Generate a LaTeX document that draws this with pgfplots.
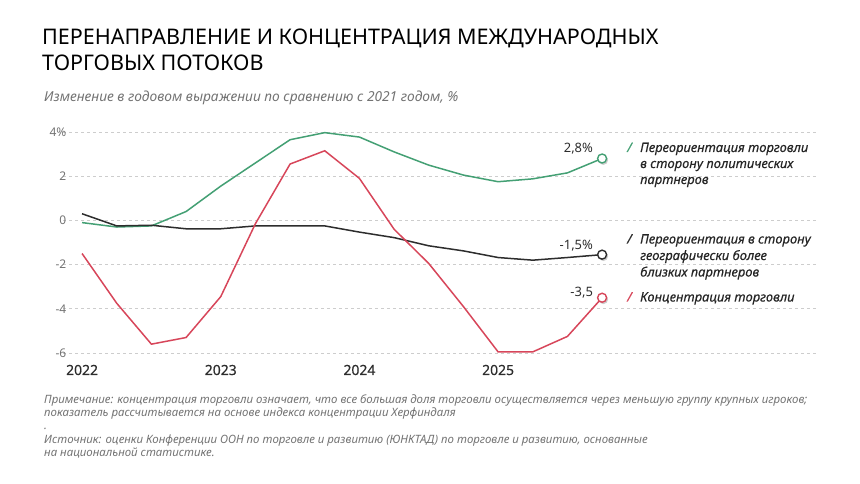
\documentclass[border=0pt]{standalone}
\usepackage{fontspec}
\setmainfont{Noto Sans}
\newfontfamily\legendfont[FakeBold=0.4]{Noto Sans}
\usepackage{pgfplots}
\usepackage{pgfplotstable}
\pgfplotsset{compat=1.18}
\definecolor{cgreen}{RGB}{68,160,116}
\definecolor{cred}{RGB}{215,70,90}
\definecolor{cblack}{RGB}{45,45,45}
\definecolor{cgray}{RGB}{115,115,115}
\definecolor{cgrid}{RGB}{205,205,205}
\newcommand{\fs}[1]{\fontsize{#1}{#1}\selectfont}

\pgfplotstableread{
x y
0 -0.1
1 -0.3
2 -0.25
3 0.4
4 1.55
5 2.6
6 3.65
7 3.97
8 3.77
9 3.1
10 2.5
11 2.05
12 1.75
13 1.88
14 2.15
15 2.8
}\greendata

\pgfplotstableread{
x y
0 0.3
1 -0.25
2 -0.22
3 -0.38
4 -0.38
5 -0.25
6 -0.25
7 -0.25
8 -0.53
9 -0.78
10 -1.15
11 -1.38
12 -1.68
13 -1.8
14 -1.68
15 -1.55
}\blackdata

\pgfplotstableread{
x y
0 -1.5
1 -3.75
2 -5.6
3 -5.3
4 -3.45
5 -0.15
6 2.55
7 3.15
8 1.9
9 -0.4
10 -1.95
11 -3.9
12 -5.95
13 -5.95
14 -5.25
15 -3.5
}\reddata

\begin{document}
\begin{tikzpicture}[x=1bp,y=1bp]
\path[use as bounding box] (0,0) rectangle (860,484);
\node[anchor=base west,inner sep=0,font=\fs{21.6}] at (42,439) {ПЕРЕНАПРАВЛЕНИЕ И КОНЦЕНТРАЦИЯ МЕЖДУНАРОДНЫХ};
\node[anchor=base west,inner sep=0,font=\fs{21.6}] at (42,413) {ТОРГОВЫХ ПОТОКОВ};
\node[anchor=base west,inner sep=0,font=\fs{13.8}\itshape,text=cgray] at (44,382) {Изменение в годовом выражении по сравнению с 2021 годом, \%};

\begin{axis}[
 at={(63bp,131bp)}, anchor=south west, scale only axis,
 width=753bp, height=221bp,
 xmin=-0.55, xmax=21.17, ymin=-6, ymax=4,
 clip=false, axis line style={draw=none},
 xtick={0,4,8,12}, xticklabels={2022,2023,2024,2025},
 ytick={-6,-4,-2,0,2,4}, yticklabels={-6,-4,-2,0,2,4\%},
 major tick length=0pt,
 ymajorgrids, grid style={cgrid, dash pattern=on 3bp off 3bp, line width=0.6bp},
 xticklabel style={font=\legendfont\fs{14}, text=cblack, anchor=base, yshift=-22bp},
 yticklabel style={font=\fs{12}, text=cgray, anchor=east, inner xsep=0pt, xshift=3.5bp},
 every axis plot/.append style={line width=1.5bp},
]
\addplot[cgreen] table {\greendata};
\addplot[cblack] table {\blackdata};
\addplot[cred] table {\reddata};
\addplot[only marks, mark=*, mark size=4.8bp,
  mark options={draw opacity=0, fill=black, fill opacity=0.2, xshift=1.2bp, yshift=-1.6bp}]
  coordinates {(15,2.8)(15,-1.55)(15,-3.5)};
\addplot[only marks, mark=*, mark size=4.5bp, mark options={draw=cgreen, fill=white, line width=1.4bp}] coordinates {(15,2.8)};
\addplot[only marks, mark=*, mark size=4.5bp, mark options={draw=cblack, fill=white, line width=1.4bp}] coordinates {(15,-1.55)};
\addplot[only marks, mark=*, mark size=4.5bp, mark options={draw=cred, fill=white, line width=1.4bp}] coordinates {(15,-3.5)};
\node[anchor=base east, inner sep=0, font=\fs{13}, text=cblack, xshift=-9bp, yshift=6bp] at (axis cs:15,2.8) {2,8\%};
\node[anchor=base east, inner sep=0, font=\fs{13}, text=cblack, xshift=-9bp, yshift=5bp] at (axis cs:15,-1.55) {-1,5\%};
\node[anchor=base east, inner sep=0, font=\fs{13}, text=cblack, xshift=-9bp, yshift=1bp] at (axis cs:15,-3.5) {-3,5};
\end{axis}

% legend
\begin{scope}[every node/.style={anchor=base west, inner sep=0, font=\legendfont\fs{13}\itshape, text=black!85}]
\node[text=cgreen] at (627,332) {/};
\node at (640,332) {Переориентация торговли};
\node at (640,316) {в сторону политических};
\node at (640,300) {партнеров};
\node[text=cblack] at (627,240.5) {/};
\node at (640,240.5) {Переориентация в сторону};
\node at (640,224) {географически более};
\node at (640,207.5) {близких партнеров};
\node[text=cred] at (627,182.5) {/};
\node at (640,182.5) {Концентрация торговли};
\end{scope}

% notes
\begin{scope}[every node/.style={anchor=base west, inner sep=0, font=\fs{11.5}\itshape, text=cgray}]
\node at (44,80) {Примечание: концентрация торговли означает, что все большая доля торговли осуществляется через меньшую группу крупных игроков;};
\node at (44,67.3) {показатель рассчитывается на основе индекса концентрации Херфиндаля};
\node at (44,54) {.};
\node at (44,40) {Источник: оценки Конференции ООН по торговле и развитию (ЮНКТАД) по торговле и развитию, основанные};
\node at (44,27.3) {на национальной статистике.};
\end{scope}
\end{tikzpicture}
\end{document}
